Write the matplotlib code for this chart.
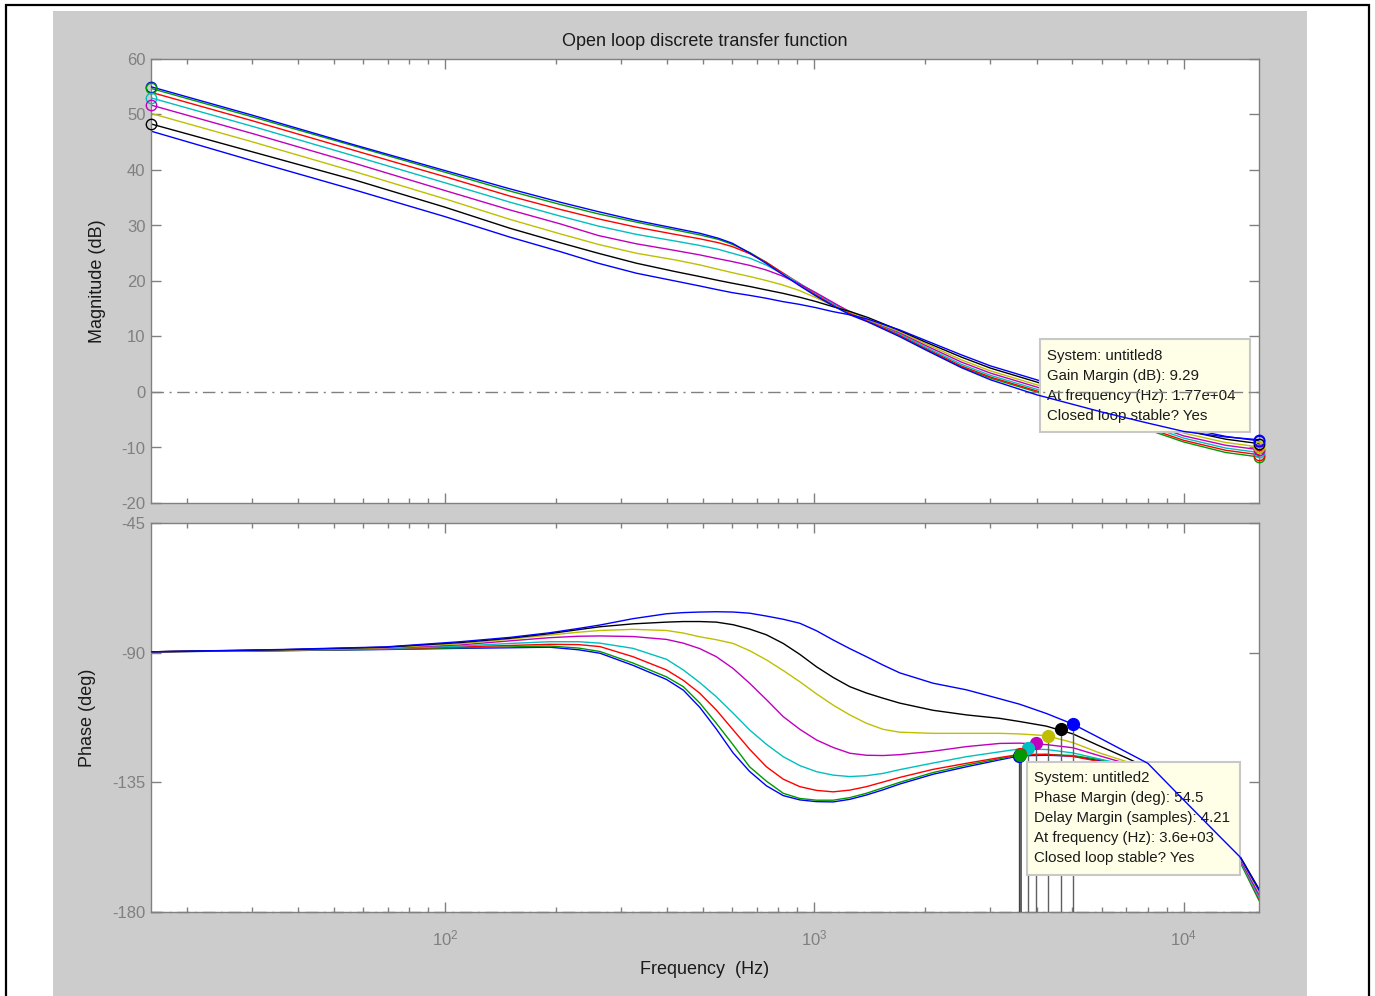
import numpy as np
import matplotlib.pyplot as plt
from matplotlib.patches import Rectangle
from matplotlib.ticker import LogLocator, NullFormatter

plt.rcParams['font.family'] = ['Liberation Sans', 'DejaVu Sans']
plt.rcParams['mathtext.default'] = 'regular'
plt.rcParams['axes.unicode_minus'] = False

# systems and MATLAB line colours
systems = ['untitled1', 'untitled2', 'untitled3', 'untitled4',
           'untitled5', 'untitled6', 'untitled7', 'untitled8']
colors = ['#0000FF', '#009900', '#FF0000', '#00BFBF',
          '#BF00BF', '#BFBF00', '#000000', '#0000FF']

# magnitude (dB)
freq_mag = [16, 30, 57, 100, 150, 205, 260, 330, 420, 490,
            550, 600, 670, 740, 820, 910, 1010, 1120, 1250, 1400,
            1700, 2000, 2500, 3000, 4000, 6000, 8000, 10000, 13000, 16000]
mag1 = [55.0, 49.9, 44.5, 39.9, 36.6, 34.2, 32.5, 30.9, 29.5, 28.6,
        27.7, 26.8, 25.0, 23.2, 21.2, 19.2, 17.3, 15.6, 13.9, 12.6,
        10.0, 7.6, 4.4, 2.2, -0.5, -3.6, -5.6, -7.1, -8.1, -8.6]
mag2 = [54.7, 49.6, 44.3, 39.6, 36.2, 33.8, 32.1, 30.6, 29.2, 28.3,
        27.5, 26.6, 25.1, 23.4, 21.4, 19.4, 17.4, 15.7, 14.1, 12.7,
        10.2, 7.7, 4.5, 2.5, 0.0, -4.0, -6.8, -9.0, -10.9, -11.7]
mag3 = [54.0, 48.9, 43.5, 38.8, 35.3, 32.9, 31.2, 29.7, 28.4, 27.6,
        26.9, 26.2, 24.9, 23.4, 21.5, 19.6, 17.6, 15.8, 14.2, 12.8,
        10.3, 7.9, 4.7, 2.7, 0.2, -3.7, -6.5, -8.7, -10.5, -11.3]
mag4 = [53.0, 47.9, 42.5, 37.7, 34.2, 31.7, 29.9, 28.4, 27.2, 26.4,
        25.7, 25.0, 24.1, 22.9, 21.3, 19.6, 17.8, 16.0, 14.5, 13.0,
        10.5, 8.1, 5.0, 3.0, 0.5, -3.4, -6.1, -8.3, -10.1, -10.9]
mag5 = [51.7, 46.6, 41.2, 36.3, 32.8, 30.3, 28.2, 26.7, 25.5, 24.7,
        24.0, 23.5, 22.8, 22.0, 20.9, 19.5, 17.9, 16.2, 14.4, 13.0,
        10.7, 8.4, 5.4, 3.4, 0.9, -3.0, -5.7, -7.9, -9.6, -10.4]
mag6 = [50.2, 45.1, 39.7, 34.8, 31.1, 28.5, 26.6, 25.0, 23.8, 22.9,
        22.1, 21.5, 20.8, 20.1, 19.3, 18.3, 17.0, 15.6, 14.4, 13.0,
        10.9, 8.7, 5.8, 3.8, 1.3, -2.6, -5.3, -7.4, -9.1, -9.9]
mag7 = [48.3, 43.3, 38.2, 33.3, 29.5, 26.9, 25.0, 23.2, 21.7, 20.8,
        20.1, 19.6, 19.0, 18.4, 17.8, 17.1, 16.3, 15.4, 14.5, 13.4,
        11.1, 9.0, 6.3, 4.3, 1.8, -2.1, -4.8, -6.9, -8.5, -9.3]
mag8 = [47.0, 41.7, 36.4, 31.6, 27.9, 25.3, 23.2, 21.4, 20.0, 19.1,
        18.4, 17.9, 17.4, 16.9, 16.3, 15.8, 15.2, 14.5, 13.9, 13.1,
        11.2, 9.3, 6.7, 4.7, 2.2, -1.6, -4.3, -6.4, -8.0, -8.8]

# phase (deg)
freq_ph = [16, 36, 69, 110, 150, 192, 230, 263, 323, 398,
           442, 490, 543, 603, 668, 742, 824, 914, 1014, 1125,
           1248, 1384, 1535, 1703, 2097, 2583, 3178, 3600, 4250, 5015,
           5925, 7000, 8000, 10000, 12000, 14190, 16000]
ph1 = [-89.7, -89.3, -88.9, -88.5, -88.3, -88.1, -89.0, -90.2, -94.4, -99.3,
       -103.0, -109.0, -116.5, -124.8, -131.2, -136.2, -139.6, -141.1, -141.7, -141.8,
       -140.9, -139.4, -137.6, -135.6, -132.2, -129.6, -127.2, -125.8, -125.6, -125.9,
       -127.5, -129.5, -132.0, -141.5, -152.0, -162.0, -175.0]
ph2 = [-89.7, -89.3, -88.8, -88.3, -88.0, -87.7, -88.4, -89.6, -93.6, -98.4,
       -101.8, -107.5, -114.5, -122.0, -129.6, -134.6, -138.8, -140.6, -141.2, -141.2,
       -140.3, -138.8, -136.9, -135.0, -131.6, -129.0, -126.8, -125.5, -125.3, -125.7,
       -127.1, -129.5, -132.0, -141.5, -152.0, -162.5, -176.0]
ph3 = [-89.7, -89.2, -88.7, -88.0, -87.5, -87.1, -87.2, -87.9, -91.4, -96.0,
       -99.6, -104.1, -109.9, -116.8, -123.5, -129.6, -133.9, -136.5, -137.8, -138.3,
       -137.7, -136.5, -134.9, -133.3, -130.5, -128.4, -126.4, -125.3, -125.3, -126.0,
       -127.8, -129.5, -132.0, -141.5, -151.5, -162.0, -175.5]
ph4 = [-89.7, -89.2, -88.6, -87.7, -86.8, -86.2, -86.2, -86.7, -88.5, -92.3,
       -96.0, -100.4, -105.3, -111.0, -116.8, -121.8, -126.1, -129.2, -131.3, -132.5,
       -133.0, -132.7, -131.9, -130.6, -128.3, -126.1, -124.4, -123.4, -123.6, -124.8,
       -126.9, -129.0, -131.5, -141.0, -151.5, -162.0, -175.0]
ph5 = [-89.7, -89.1, -88.4, -87.3, -85.9, -84.8, -84.3, -84.2, -84.4, -85.4,
       -86.7, -88.6, -91.4, -95.5, -100.6, -106.3, -112.2, -116.6, -120.3, -122.9,
       -124.9, -125.6, -125.7, -125.4, -124.2, -122.6, -121.5, -121.4, -121.9, -123.0,
       -125.8, -128.5, -131.0, -141.0, -151.0, -161.5, -174.0]
ph6 = [-89.7, -89.1, -88.3, -86.9, -85.3, -83.9, -82.9, -82.3, -81.9, -82.3,
       -83.2, -84.5, -85.5, -86.8, -89.3, -92.5, -96.2, -100.1, -104.3, -108.2,
       -111.6, -114.5, -116.6, -117.6, -118.0, -118.0, -118.0, -118.2, -118.8, -121.2,
       -124.8, -127.8, -131.0, -140.5, -150.5, -161.0, -173.0]
ph7 = [-89.7, -89.0, -88.1, -86.5, -85.0, -83.4, -82.0, -81.0, -80.0, -79.4,
       -79.2, -79.2, -79.4, -80.3, -81.8, -83.8, -86.8, -90.6, -94.9, -98.6,
       -101.8, -104.0, -105.8, -107.5, -110.0, -111.6, -112.8, -113.9, -115.5, -118.2,
       -122.4, -126.5, -130.0, -140.0, -150.0, -160.5, -172.0]
ph8 = [-89.7, -88.9, -88.0, -86.2, -84.7, -83.1, -81.6, -80.4, -78.2, -76.5,
       -76.1, -75.9, -75.8, -75.9, -76.3, -77.3, -78.4, -79.8, -82.4, -85.6,
       -88.6, -91.4, -94.3, -97.0, -100.6, -102.9, -106.0, -107.9, -111.1, -114.8,
       -119.6, -124.5, -128.4, -141.1, -151.4, -160.8, -172.4]

mags = [mag1, mag2, mag3, mag4, mag5, mag6, mag7, mag8]
phases = [ph1, ph2, ph3, ph4, ph5, ph6, ph7, ph8]

# phase margin points (crossover freq, phase)
pm_freq = [3580, 3600, 3600, 3790, 3995, 4293, 4667, 5015]
pm_phase = [-125.8, -125.5, -125.3, -123.2, -121.5, -118.9, -116.6, -114.8]

# circles at the ends of the magnitude curves
left_marked = [True, True, False, True, True, False, True, False]

gm_text = ['System: untitled8', 'Gain Margin (dB): 9.29',
           'At frequency (Hz): 1.77e+04', 'Closed loop stable? Yes']
pm_text = ['System: untitled2', 'Phase Margin (deg): 54.5',
           'Delay Margin (samples): 4.21', 'At frequency (Hz): 3.6e+03',
           'Closed loop stable? Yes']

W, H = 1375, 996
fig = plt.figure(figsize=(W / 100, H / 100), dpi=100, facecolor='white')
fig.patches.append(Rectangle((53 / W, 0), 1254 / W, 1 - 11 / H, zorder=-10,
                             transform=fig.transFigure, fc='#CCCCCC', ec='none'))
fig.patches.append(Rectangle((6 / W, -0.02), 1363 / W, 1.02 - 5 / H, zorder=-9,
                             transform=fig.transFigure, fill=False,
                             ec='black', lw=1.6))

ax1 = fig.add_axes([151 / W, 1 - 503 / H, 1108 / W, 444 / H])
ax2 = fig.add_axes([151 / W, 1 - 912 / H, 1108 / W, 389 / H])

dashdot = (0, (9, 4, 1.5, 4))
gray = '#808080'

for ax in (ax1, ax2):
    ax.set_xscale('log')
    ax.set_xlim(16, 16000)
    ax.set_facecolor('white')
    for s in ax.spines.values():
        s.set_color(gray)
        s.set_linewidth(1)
    ax.xaxis.set_major_locator(LogLocator(base=10, numticks=10))
    ax.xaxis.set_minor_locator(LogLocator(base=10, subs=np.arange(2, 10), numticks=100))
    ax.xaxis.set_minor_formatter(NullFormatter())
    ax.tick_params(which='both', direction='in', top=True, right=True,
                   colors=gray, labelcolor=gray, labelsize=12, width=1)
    ax.tick_params(which='major', length=7, pad=4)
    ax.tick_params(which='minor', length=3.5)

# magnitude
ax1.set_ylim(-20, 60)
ax1.set_yticks(np.arange(-20, 61, 10))
ax1.tick_params(labelbottom=False)
for i in range(8):
    z = 5 if i == 0 else 2
    ax1.plot(freq_mag, mags[i], color=colors[i], lw=1.0, zorder=z)
for i in range(8):
    ax1.plot(freq_mag[-1], mags[i][-1], 'o', mfc='none', mec=colors[i],
             ms=7.5, mew=1, clip_on=False, zorder=6)
    if left_marked[i]:
        ax1.plot(freq_mag[0], mags[i][0], 'o', mfc='none', mec=colors[i],
                 ms=7.5, mew=1, clip_on=False, zorder=6)
ax1.axhline(0, color=gray, lw=1, ls=dashdot, zorder=4.6)

ax1.add_patch(Rectangle((0.8023, 0.1599), 0.1895, 0.2095, transform=ax1.transAxes,
                        fc='#FFFFE8', ec='#C8C8C8', lw=1.5, zorder=4))
for k, line in enumerate(gm_text):
    ax1.text(0.8087, 0.3311 - k * 0.0451, line, transform=ax1.transAxes,
             fontsize=10.8, va='center', ha='left', color='#1a1a1a', zorder=4.5)

ax1.set_ylabel('Magnitude (dB)', fontsize=13, color='#1a1a1a')
ax1.yaxis.set_label_coords(-0.0406, 0.5)
ax1.set_title('Open loop discrete transfer function', fontsize=13, pad=9,
              color='#1a1a1a')

# phase
ax2.set_ylim(-180, -45)
ax2.set_yticks([-180, -135, -90, -45])
ax2.tick_params(axis='x', which='major', pad=12)
for i in range(8):
    z = 5 if i == 7 else 2
    ax2.plot(freq_ph, phases[i], color=colors[i], lw=1.0, zorder=z)
ax2.axhline(-180, color=gray, lw=1, ls=dashdot, zorder=4.6, clip_on=False)

for i in range(8):
    lw, lc = (1.8, '#333333') if i == 1 else (1.0, '#606060')
    ax2.vlines(pm_freq[i], -180, pm_phase[i], colors=lc, lw=lw, zorder=3)
for i in [7, 6, 5, 4, 3, 2, 0, 1]:
    ax2.plot(pm_freq[i], pm_phase[i], 'o', color=colors[i], ms=8.5, zorder=3.5)

ax2.add_patch(Rectangle((0.7906, 0.0951), 0.1922, 0.2905, transform=ax2.transAxes,
                        fc='#FFFFE8', ec='#C8C8C8', lw=1.5, zorder=4))
for k, line in enumerate(pm_text):
    ax2.text(0.7969, 0.3445 - k * 0.0514, line, transform=ax2.transAxes,
             fontsize=10.8, va='center', ha='left', color='#1a1a1a', zorder=4.5)

ax2.set_ylabel('Phase (deg)', fontsize=13, color='#1a1a1a')
ax2.yaxis.set_label_coords(-0.0496, 0.5)
ax2.set_xlabel('Frequency  (Hz)', fontsize=13, color='#1a1a1a')
ax2.xaxis.set_label_coords(0.5, -0.125)

fig.savefig('out.png', dpi=100, facecolor='white')
